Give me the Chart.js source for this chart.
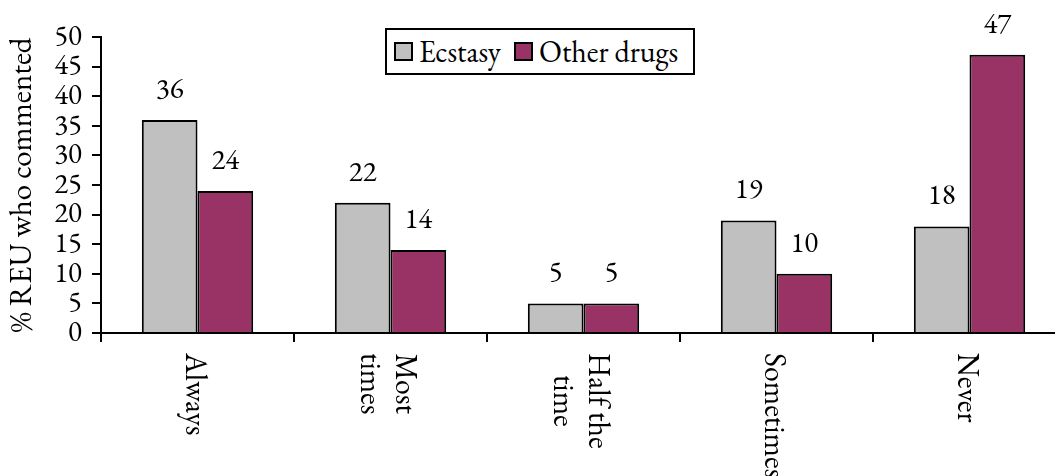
<!DOCTYPE html>
<html>
<head>
<meta charset="utf-8">
<script src="https://cdn.jsdelivr.net/npm/chart.js@4.4.0/dist/chart.umd.min.js"></script>
<style>
    body { margin: 0; background: #fff; overflow: hidden; }
    #wrap { position: relative; width: 1055px; height: 476px; overflow: hidden; }
    #legend {
        position: absolute; left: 385px; top: 28px; width: 310px; height: 47px;
        box-sizing: border-box; border: 2px solid #000; background: #fff;
        display: flex; align-items: center; padding-left: 7px;
        font-size: 30px; font-family: 'EB Garamond', 'Liberation Serif', serif; color: #000;
    }
    .item { display: flex; align-items: center; margin-right: 13px; }
    .sw { width: 15px; height: 15px; border: 2px solid #000; margin-right: 6px; }
</style>
</head>
<body>
<div id="wrap">
    <canvas id="chart" width="1070" height="476"></canvas>
    <div id="legend"></div>
</div>
<script>
const categories = [['Always'], ['Most', 'times'], ['Half the', 'time'], ['Sometimes'], ['Never']];
const seriesNames = ['Ecstasy', 'Other drugs'];
const ecstasy = [36, 22, 5, 19, 18];
const otherDrugs = [24, 14, 5, 10, 47];
const seriesColors = ['#C0C0C0', '#993366'];
const yMin = 0, yMax = 50, yStep = 5;

const serif = "'EB Garamond', 'Liberation Serif', serif";
Chart.defaults.color = '#000';
Chart.defaults.font.family = serif;

// value above each bar
const valueLabels = {
    id: 'valueLabels',
    afterDatasetsDraw(chart) {
        const ctx = chart.ctx;
        ctx.save();
        ctx.font = '29px ' + serif;
        ctx.fillStyle = '#000';
        ctx.textAlign = 'center';
        ctx.textBaseline = 'middle';
        chart.data.datasets.forEach((ds, di) => {
            chart.getDatasetMeta(di).data.forEach((bar, i) => {
                ctx.fillText(ds.data[i], bar.x, bar.y - 30);
            });
        });
        ctx.restore();
    }
};

// category labels turned clockwise (read top to bottom)
const rotatedLabels = {
    id: 'rotatedLabels',
    afterDraw(chart) {
        const xs = chart.scales.x, ctx = chart.ctx;
        ctx.save();
        ctx.font = '30px ' + serif;
        ctx.fillStyle = '#000';
        ctx.textAlign = 'center';
        ctx.textBaseline = 'alphabetic';
        chart.data.labels.forEach((lines, i) => {
            const cx = xs.getPixelForTick(i);
            const w = Math.max(...lines.map(l => ctx.measureText(l).width));
            ctx.save();
            ctx.translate(cx, xs.bottom + 11);
            ctx.rotate(Math.PI / 2);
            lines.forEach((l, j) => {
                ctx.fillText(l, w / 2, 12 - (lines.length - 1) * 17.5 + j * 35);
            });
            ctx.restore();
        });
        ctx.restore();
    }
};

const chart = new Chart(document.getElementById('chart'), {
    type: 'bar',
    data: {
        labels: categories,
        datasets: [{
            label: seriesNames[0],
            data: ecstasy,
            backgroundColor: seriesColors[0],
            borderColor: '#000',
            borderWidth: 2
        }, {
            label: seriesNames[1],
            data: otherDrugs,
            backgroundColor: seriesColors[1],
            borderColor: '#000',
            borderWidth: 2
        }]
    },
    options: {
        responsive: false,
        animation: false,
        categoryPercentage: 0.577,
        barPercentage: 1,
        layout: { padding: { top: 37, right: 4, bottom: 134, left: 0 } },
        plugins: {
            legend: { display: false },
            tooltip: { enabled: false }
        },
        scales: {
            x: {
                ticks: { display: false },
                grid: { drawOnChartArea: false, drawTicks: true, tickLength: 9, color: '#000', lineWidth: 2 },
                border: { color: '#000', width: 2 }
            },
            y: {
                min: yMin,
                max: yMax,
                ticks: { stepSize: yStep, autoSkip: false, padding: 10, font: { size: 29 } },
                grid: { drawOnChartArea: false, drawTicks: true, tickLength: 9, color: '#000', lineWidth: 2 },
                border: { color: '#000', width: 2 },
                title: {
                    display: true,
                    text: '% REU who commented',
                    font: { size: 31 },
                    padding: { top: 4, bottom: 0 }
                },
                afterFit(scale) { scale.width = 101; }
            }
        }
    },
    plugins: [valueLabels, rotatedLabels]
});

// legend box built from the same series arrays
const legend = document.getElementById('legend');
seriesNames.forEach((name, i) => {
    const item = document.createElement('div');
    item.className = 'item';
    const sw = document.createElement('div');
    sw.className = 'sw';
    sw.style.background = seriesColors[i];
    item.appendChild(sw);
    item.appendChild(document.createTextNode(name));
    legend.appendChild(item);
});
</script>
</body>
</html>
